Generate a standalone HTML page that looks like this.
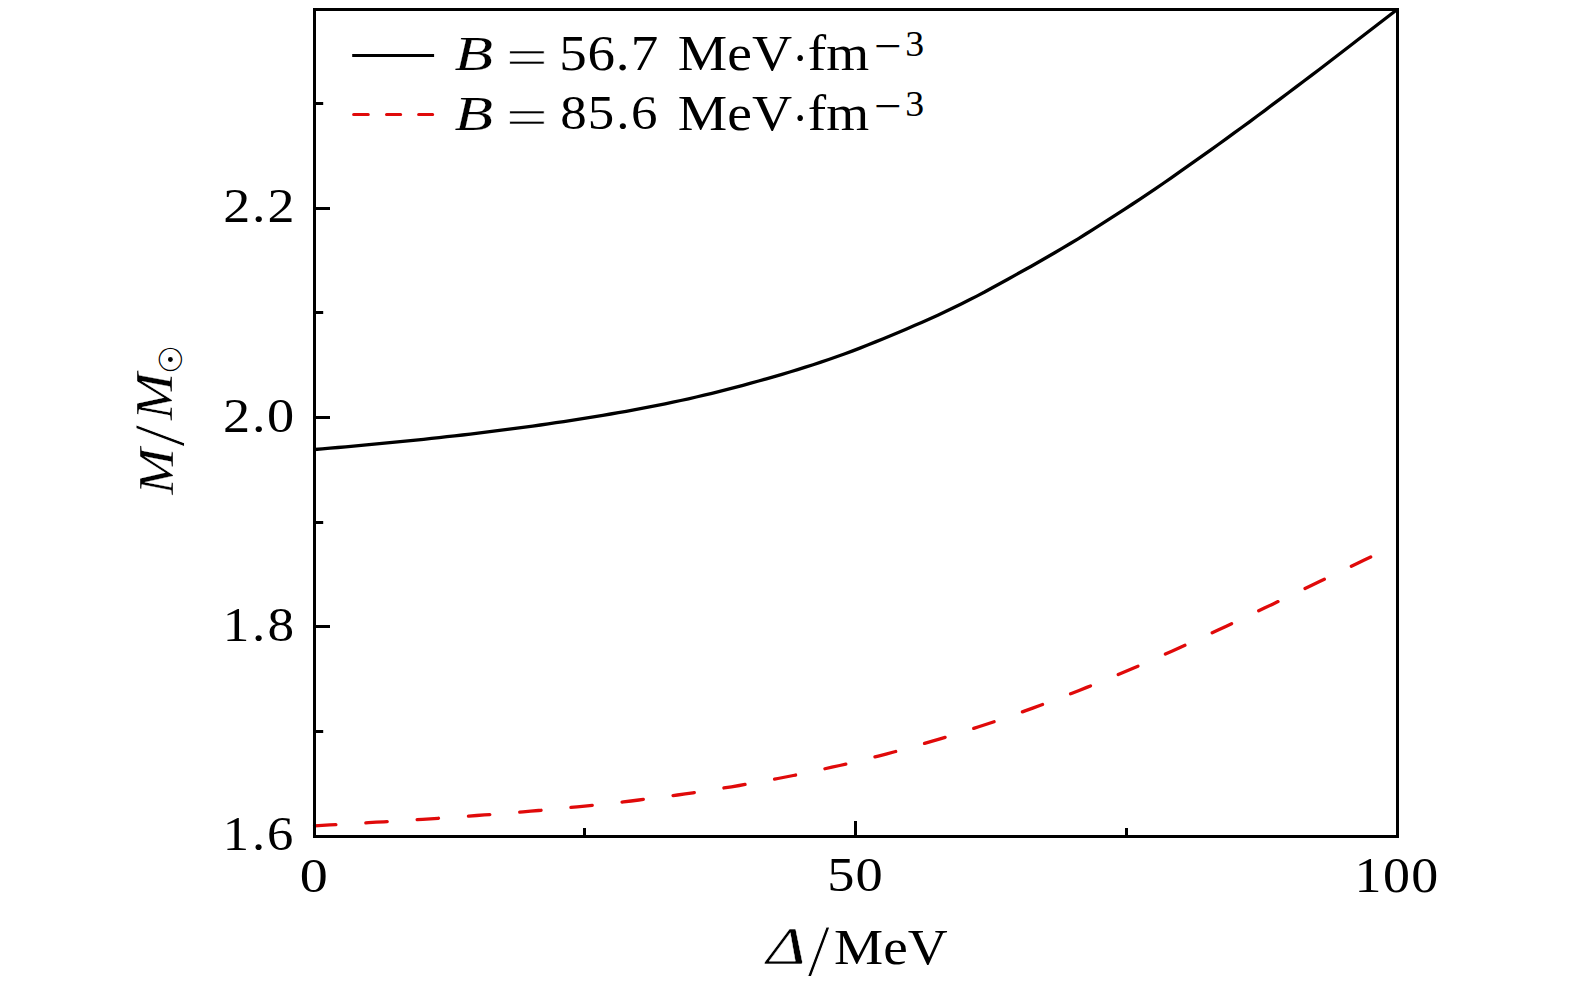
<!DOCTYPE html>
<html lang="en"><head><meta charset="utf-8"><title>M/M⊙ vs Δ</title>
<style>html,body{margin:0;padding:0;background:#fff;overflow:hidden}svg{display:block}</style></head>
<body>
<svg width="1575" height="984" viewBox="0 0 1575 984">
<rect width="1575" height="984" fill="#fff"/>
<g fill="none" stroke-width="3.3">
<path stroke="#000" stroke-linejoin="round" d="M314.5 449.5 L322.3 448.8 L330.1 448.1 L337.9 447.5 L345.7 446.8 L353.5 446.1 L361.2 445.4 L369.0 444.6 L376.8 443.9 L384.6 443.2 L392.4 442.4 L400.2 441.7 L408.0 440.9 L415.8 440.1 L423.6 439.3 L431.4 438.4 L439.2 437.6 L447.0 436.7 L454.7 435.9 L462.5 435.0 L470.3 434.1 L478.1 433.1 L485.9 432.2 L493.7 431.2 L501.5 430.2 L509.3 429.2 L517.1 428.2 L524.9 427.2 L532.7 426.1 L540.4 425.0 L548.2 423.9 L556.0 422.7 L563.8 421.6 L571.6 420.4 L579.4 419.1 L587.2 417.9 L595.0 416.6 L602.8 415.3 L610.6 414.0 L618.4 412.7 L626.2 411.3 L633.9 409.9 L641.7 408.4 L649.5 406.9 L657.3 405.4 L665.1 403.8 L672.9 402.2 L680.7 400.5 L688.5 398.8 L696.3 397.0 L704.1 395.2 L711.9 393.3 L719.7 391.4 L727.4 389.4 L735.2 387.4 L743.0 385.3 L750.8 383.2 L758.6 381.0 L766.4 378.8 L774.2 376.6 L782.0 374.3 L789.8 372.0 L797.6 369.6 L805.4 367.2 L813.1 364.7 L820.9 362.1 L828.7 359.5 L836.5 356.8 L844.3 354.0 L852.1 351.1 L859.9 348.1 L867.7 345.0 L875.5 341.9 L883.3 338.7 L891.1 335.5 L898.9 332.2 L906.6 328.9 L914.4 325.6 L922.2 322.2 L930.0 318.7 L937.8 315.2 L945.6 311.6 L953.4 307.8 L961.2 304.0 L969.0 300.1 L976.8 296.1 L984.6 292.0 L992.3 287.7 L1000.1 283.5 L1007.9 279.2 L1015.7 274.9 L1023.5 270.5 L1031.3 266.2 L1039.1 261.8 L1046.9 257.3 L1054.7 252.8 L1062.5 248.2 L1070.3 243.5 L1078.1 238.8 L1085.8 234.0 L1093.6 229.1 L1101.4 224.2 L1109.2 219.2 L1117.0 214.2 L1124.8 209.1 L1132.6 204.0 L1140.4 198.8 L1148.2 193.6 L1156.0 188.3 L1163.8 183.0 L1171.6 177.6 L1179.3 172.2 L1187.1 166.7 L1194.9 161.2 L1202.7 155.7 L1210.5 150.1 L1218.3 144.5 L1226.1 138.9 L1233.9 133.2 L1241.7 127.5 L1249.5 121.8 L1257.3 116.0 L1265.0 110.3 L1272.8 104.4 L1280.6 98.6 L1288.4 92.8 L1296.2 86.9 L1304.0 81.0 L1311.8 75.1 L1319.6 69.2 L1327.4 63.2 L1335.2 57.3 L1343.0 51.3 L1350.8 45.3 L1358.5 39.3 L1366.3 33.3 L1374.1 27.3 L1381.9 21.3 L1389.7 15.3 L1397.5 9.3"/>
<path stroke="#e00a0a" stroke-linecap="round" stroke-dasharray="21.4 30.02" stroke-dashoffset="0" d="M314.5 825.8 L322.2 825.3 L329.9 824.9 L337.7 824.5 L345.4 824.0 L353.1 823.6 L360.8 823.1 L368.6 822.7 L376.3 822.2 L384.0 821.8 L391.7 821.3 L399.5 820.8 L407.2 820.3 L414.9 819.8 L422.6 819.3 L430.3 818.8 L438.1 818.3 L445.8 817.7 L453.5 817.2 L461.2 816.7 L469.0 816.1 L476.7 815.5 L484.4 814.9 L492.1 814.4 L499.9 813.7 L507.6 813.1 L515.3 812.5 L523.0 811.8 L530.7 811.2 L538.5 810.5 L546.2 809.8 L553.9 809.1 L561.6 808.4 L569.4 807.6 L577.1 806.9 L584.8 806.1 L592.5 805.3 L600.3 804.5 L608.0 803.6 L615.7 802.8 L623.4 801.9 L631.1 801.0 L638.9 800.0 L646.6 799.1 L654.3 798.1 L662.0 797.1 L669.8 796.0 L677.5 795.0 L685.2 793.9 L692.9 792.8 L700.7 791.6 L708.4 790.5 L716.1 789.3 L723.8 788.0 L731.5 786.8 L739.3 785.5 L747.0 784.1 L754.7 782.8 L762.4 781.4 L770.2 780.0 L777.9 778.5 L785.6 777.0 L793.3 775.5 L801.1 773.9 L808.8 772.3 L816.5 770.6 L824.2 768.9 L831.9 767.2 L839.7 765.5 L847.4 763.7 L855.1 761.8 L862.8 759.9 L870.6 758.0 L878.3 756.1 L886.0 754.1 L893.7 752.0 L901.4 749.9 L909.2 747.8 L916.9 745.7 L924.6 743.4 L932.3 741.2 L940.1 738.9 L947.8 736.6 L955.5 734.2 L963.2 731.8 L971.0 729.3 L978.7 726.8 L986.4 724.3 L994.1 721.7 L1001.8 719.1 L1009.6 716.4 L1017.3 713.7 L1025.0 710.9 L1032.7 708.1 L1040.5 705.3 L1048.2 702.4 L1055.9 699.5 L1063.6 696.5 L1071.4 693.5 L1079.1 690.5 L1086.8 687.4 L1094.5 684.3 L1102.2 681.2 L1110.0 678.0 L1117.7 674.8 L1125.4 671.5 L1133.1 668.2 L1140.9 664.9 L1148.6 661.5 L1156.3 658.1 L1164.0 654.7 L1171.8 651.3 L1179.5 647.8 L1187.2 644.3 L1194.9 640.8 L1202.6 637.2 L1210.4 633.6 L1218.1 630.0 L1225.8 626.4 L1233.5 622.8 L1241.3 619.1 L1249.0 615.5 L1256.7 611.8 L1264.4 608.1 L1272.2 604.4 L1279.9 600.7 L1287.6 596.9 L1295.3 593.2 L1303.0 589.5 L1310.8 585.7 L1318.5 582.0 L1326.2 578.3 L1333.9 574.5 L1341.7 570.8 L1349.4 567.1 L1357.1 563.4 L1364.8 559.7 L1372.6 556.1 L1380.3 552.4 L1388.0 548.8"/>
</g>
<g stroke="#000" stroke-width="3" fill="none" stroke-linecap="butt">
<rect x="314.5" y="9.5" width="1083.0" height="827.0"/>
<path d="M314.5 208.5 h15.5 M314.5 417.5 h15.5 M314.5 626.5 h15.5 M314.5 103.5 h8.7 M314.5 312.5 h8.7 M314.5 522.5 h8.7 M314.5 731.5 h8.7 M855.5 836.5 v-15.5 M584.5 836.5 v-8.6 M1126.5 836.5 v-8.6"/>
</g>
<g fill="none" stroke-width="3.2">
<path stroke="#000" d="M352.2 55.5 H434.1"/>
<path stroke="#e00a0a" stroke-linecap="round" d="M353.7 114.5 h14.5 M386.6 114.5 h14 M418.7 114.5 h13.9"/>
</g>
<g font-family='"Liberation Serif", "DejaVu Serif", serif' font-size='50' fill='#000'>
<g><text transform="matrix(1.0801 0 0 0.9585 0 222.38)" x="206.64 233.26 247.61">2.2</text><text transform="matrix(1.0864 0 0 0.9809 0 432.36)" x="205.37 231.87 245.87">2.0</text><text transform="matrix(1.0646 0 0 0.9809 0 641.36)" x="209.19 236.75 251.26">1.8</text><text transform="matrix(1.0522 0 0 0.9837 0 850.11)" x="211.71 239.61 253.79">1.6</text></g>
<g><text transform="matrix(1.1215 0 0 0.9867 299.71 891.56)">0</text><text transform="matrix(1.0887 0 0 0.9911 0 891.35)" x="759.95 785.69">50</text><text transform="matrix(1.0803 0 0 0.9926 0 891.65)" x="1253.86 1280.29 1306.34">100</text></g>
<g><text transform="matrix(1.3270 0 0 1.0677 766.46 964.12)" font-style="italic" stroke="#fff" stroke-width="0.334">Δ</text><text transform="matrix(1.6131 0 0 1.4663 807.52 975.65)" stroke="#fff" stroke-width="0.649">/</text><text transform="matrix(1.1052 0 0 1.0254 834.09 964.43)">MeV</text></g>
<g><text transform="matrix(1.2616 0 0 0.9863 454.55 70.05)" font-style="italic" stroke="#fff" stroke-width="0.142">B</text><text transform="matrix(1.4814 0 0 1.0430 506.08 75.02)" stroke="#fff" stroke-width="0.475">=</text><text transform="matrix(1.1009 0 0 0.9971 0 70.25)" x="508.01 533.72 559.42 572.96">56.7</text><text transform="matrix(1.1132 0 0 0.9955 677.78 70.35)">MeV</text><text transform="matrix(0.9508 0 0 1.0181 792.36 75.10)">·</text><text transform="matrix(1.1042 0 0 1.0071 807.79 69.95)">fm</text><text transform="matrix(0.9742 0 0 0.8889 874.11 60.78)">−</text><text transform="matrix(0.7561 0 0 0.7120 905.16 56.19)">3</text></g>
<g><text transform="matrix(1.2616 0 0 0.9863 454.55 129.95)" font-style="italic" stroke="#fff" stroke-width="0.142">B</text><text transform="matrix(1.4814 0 0 1.0430 506.08 134.92)" stroke="#fff" stroke-width="0.475">=</text><text transform="matrix(1.0591 0 0 0.9853 0 129.11)" x="529.05 554.87 581.75 595.85">85.6</text><text transform="matrix(1.1132 0 0 0.9955 677.78 130.25)">MeV</text><text transform="matrix(0.9508 0 0 1.0181 792.36 135.00)">·</text><text transform="matrix(1.1042 0 0 1.0071 807.79 129.85)">fm</text><text transform="matrix(0.9742 0 0 0.8889 874.11 120.68)">−</text><text transform="matrix(0.7561 0 0 0.7120 905.16 116.09)">3</text></g>
<g transform="rotate(-90)"><text transform="matrix(1.1114 0 0 1.0248 -494.42 172.51)" font-style="italic" stroke="#fff" stroke-width="0.281">M</text><text transform="matrix(1.5889 0 0 1.4355 -446.87 183.15)" stroke="#fff" stroke-width="0.661">/</text><text transform="matrix(1.1261 0 0 1.0357 -419.82 172.46)" font-style="italic" stroke="#fff" stroke-width="0.278">M</text><text transform="matrix(0.8001 0 0 0.8088 -376.25 183.06)" font-family='"DejaVu Serif", "DejaVu Sans", serif' stroke="#fff" stroke-width="2.113">⊙</text></g>
</g>
<circle cx="170.4" cy="359.5" r="2.4" fill="#000"/>
</svg>
</body></html>
